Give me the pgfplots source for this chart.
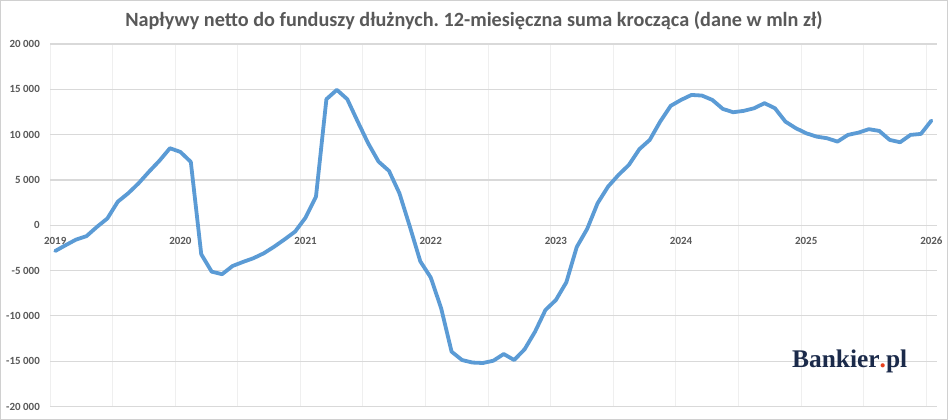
\documentclass[border=0pt]{standalone}
\usepackage{pgfplots}
\pgfplotsset{compat=1.18}
\usepackage{pgfplotstable}
\usepackage{fontspec}
\setmainfont{Carlito}
\newfontfamily\logofont{Liberation Serif}
\frenchspacing
\definecolor{lineblue}{HTML}{5B9BD5}
\definecolor{txtgray}{HTML}{595959}
\definecolor{hgrid}{HTML}{D9D9D9}
\definecolor{vgrid}{HTML}{EFEFEF}
\definecolor{frame}{HTML}{D0D0D0}
\definecolor{navy}{HTML}{1B2A4A}
\definecolor{logored}{HTML}{E8401C}
\pgfplotstableread{
x y
0 -2840
1 -2200
2 -1580
3 -1200
4 -180
5 750
6 2600
7 3530
8 4640
9 5920
10 7130
11 8500
12 8090
13 6990
14 -3200
15 -5120
16 -5400
17 -4500
18 -4050
19 -3640
20 -3090
21 -2360
22 -1550
23 -700
24 840
25 3160
26 13910
27 14940
28 13910
29 11440
30 9050
31 7020
32 6000
33 3530
34 -150
35 -3980
36 -5760
37 -9160
38 -13950
39 -14870
40 -15150
41 -15200
42 -14950
43 -14210
44 -14870
45 -13690
46 -11750
47 -9350
48 -8250
49 -6300
50 -2400
51 -400
52 2430
53 4260
54 5550
55 6660
56 8390
57 9420
58 11440
59 13170
60 13830
61 14380
62 14310
63 13830
64 12840
65 12470
66 12620
67 12910
68 13470
69 12910
70 11440
71 10710
72 10150
73 9780
74 9600
75 9230
76 9970
77 10220
78 10600
79 10410
80 9420
81 9160
82 9970
83 10080
84 11550
}\flows
\begin{document}
\begin{tikzpicture}
\useasboundingbox (0,0) rectangle (948bp,420bp);
\fill[white] (0,0) rectangle (948bp,420bp);
\draw[frame, line width=1.2bp] (0.6bp,0.6bp) rectangle (947.4bp,419.4bp);
\begin{axis}[
  at={(50bp,13.5bp)}, anchor=south west,
  scale only axis, width=886.6bp, height=362.5bp,
  xmin=-0.5, xmax=84.5, ymin=-20000, ymax=20000,
  scaled y ticks=false, scaled x ticks=false,
  axis x line*=middle,
  axis y line*=left,
  axis line style={draw=none},
  tick style={draw=none},
  xtick={0,12,24,36,48,60,72,84},
  xticklabels={2019,2020,2021,2022,2023,2024,2025,2026},
  minor xtick={-0.5,5.5,...,83.5},
  ytick={-20000,-15000,-10000,-5000,0,5000,10000,15000,20000},
  yticklabels={-20 000,-15 000,-10 000,-5 000,0,5 000,10 000,15 000,20 000},
  xmajorgrids=false, xminorgrids=true, ymajorgrids=true,
  minor x grid style={vgrid, line width=1bp},
  major y grid style={hgrid, line width=1.2bp},
  ticklabel style={font=\bfseries\fontsize{11}{12}\selectfont, text=txtgray, inner sep=0pt},
  yticklabel style={anchor=east, xshift=-10bp},
  xticklabel style={anchor=north, yshift=-11.4bp},
  clip=false,
]
\addplot[lineblue, line width=3.8bp, line join=round, line cap=round] table[x=x,y=y] {\flows};
\end{axis}
\node[anchor=base, text=txtgray, font=\bfseries\fontsize{20.3}{22}\selectfont, inner sep=0pt] at (474bp,393.3bp) {Napływy netto do funduszy dłużnych. 12-miesięczna suma krocząca (dane w mln zł)};
\node[anchor=base west, text=navy, font=\logofont\bfseries\fontsize{25.5}{28}\selectfont, inner sep=0pt] at (792bp,52.3bp) {Bankier{\color{logored}.}pl};
\end{tikzpicture}
\end{document}
